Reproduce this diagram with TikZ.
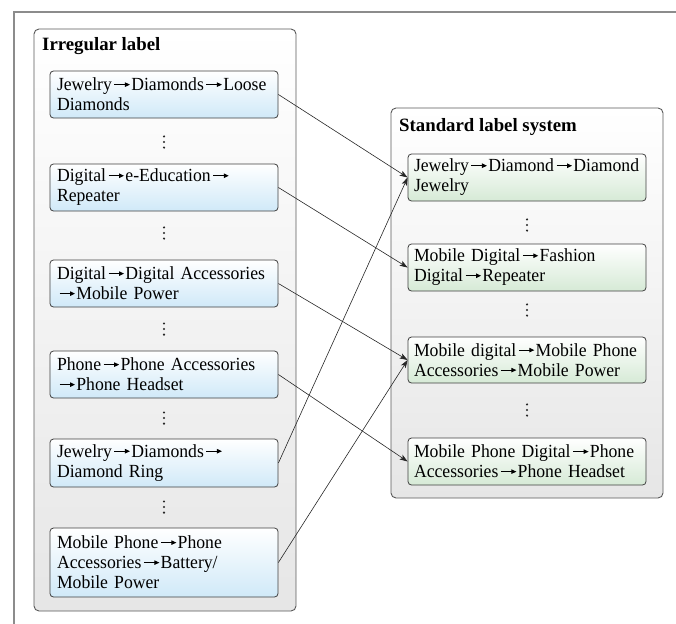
\documentclass[tikz,border=0pt]{standalone}
\usepackage{fontspec}
\setmainfont{Liberation Serif}[FakeStretch=0.955]
\newfontfamily\titlefont{Liberation Serif}
\usetikzlibrary{arrows.meta}
\definecolor{boxblue}{RGB}{208,233,248}
\definecolor{boxgreen}{RGB}{214,234,214}
\definecolor{groupgray}{RGB}{230,230,230}
% path separator arrow used inside the tag texts
\newcommand{\sep}{\hspace{2pt}\tikz[baseline=0pt]{\draw[line width=1.05pt,
  -{Triangle[length=5pt,width=4.4pt]}] (0pt,6.2pt) -- (15.5pt,6.2pt);}\hspace{0.8pt}}
\begin{document}
\begin{tikzpicture}[x=1pt,y=-1pt,
  frameline/.style={draw=black!45, line width=1.6pt},
  group/.style={draw=black!65, line width=0.9pt, rounded corners=5pt,
    top color=white, bottom color=groupgray},
  grouptitle/.style={anchor=west, inner sep=0pt,
    font=\titlefont\fontsize{18.8}{20}\selectfont\bfseries},
  tagbox/.style={draw=black!75, line width=0.8pt, rounded corners=3.5pt,
    align=left, inner ysep=0pt,
    font=\fontsize{18.5}{20}\selectfont},
  lefttag/.style={tagbox, top color=white, bottom color=boxblue,
    inner xsep=7pt, minimum width=228pt, text width=214pt},
  righttag/.style={tagbox, top color=white, bottom color=boxgreen,
    inner xsep=6pt, minimum width=238pt, text width=226pt},
  moredots/.pic={\fill[black!85] (0,-5.6) circle (1.15pt) (0,0) circle (1.15pt)
    (0,5.6) circle (1.15pt);},
  conn/.style={draw=black!85, line width=0.6pt,
    -{Stealth[length=8pt,width=5.5pt,inset=2pt]}}
]
\useasboundingbox (0,0) rectangle (676,623);

% figure frame
\draw[frameline] (14,624) -- (14,12) -- (677,12);

% the two groups
\path[group] (34,29) rectangle (296,611);
\path[group] (391,108) rectangle (663,498);
\node[grouptitle] (ltitle) at (42,46) {Irregular label};
\node[grouptitle] (rtitle) at (399,127) {Standard label system};

% irregular labels
\node[lefttag, minimum height=47pt] (L1) at (164,94.5) {Jewelry\sep Diamonds\sep Loose\\Diamonds};
\node[lefttag, minimum height=47pt] (L2) at (164,187.5) {Digital\sep e-Education\sep\\Repeater};
\node[lefttag, minimum height=47pt] (L3) at (164,283.5) {Digital\sep Digital Accessories\\\sep Mobile Power};
\node[lefttag, minimum height=47pt] (L4) at (164,374.5) {Phone\sep Phone Accessories\\\sep Phone Headset};
\node[lefttag, minimum height=48pt] (L5) at (164,463) {Jewelry\sep Diamonds\sep\\Diamond Ring};
\node[lefttag, minimum height=69pt] (L6) at (164,562.5) {Mobile Phone\sep Phone\\Accessories\sep Battery/\\Mobile Power};

\pic at (164,142) {moredots};
\pic at (164,233) {moredots};
\pic at (164,329) {moredots};
\pic at (164,418) {moredots};
\pic at (164,507) {moredots};

% standard labels
\node[righttag, minimum height=47pt] (R1) at (527,177.5) {Jewelry\sep Diamond\sep Diamond\\Jewelry};
\node[righttag, minimum height=47pt] (R2) at (527,267.5) {Mobile Digital\sep Fashion\\Digital\sep Repeater};
\node[righttag, minimum height=46pt] (R3) at (527,360) {Mobile digital\sep Mobile Phone\\Accessories\sep Mobile Power};
\node[righttag, minimum height=47pt] (R4) at (527,461.5) {Mobile Phone Digital\sep Phone\\Accessories\sep Phone Headset};

\pic at (527,225) {moredots};
\pic at (527,310) {moredots};
\pic at (527,410) {moredots};

% mappings
\draw[conn] (L1.east) -- (R1.west);
\draw[conn] (L2.east) -- (R2.west);
\draw[conn] (L3.east) -- (R3.west);
\draw[conn] (L4.east) -- (R4.west);
\draw[conn] (L5.east) -- (R1.west);
\draw[conn] (L6.east) -- (R3.west);
\end{tikzpicture}
\end{document}
